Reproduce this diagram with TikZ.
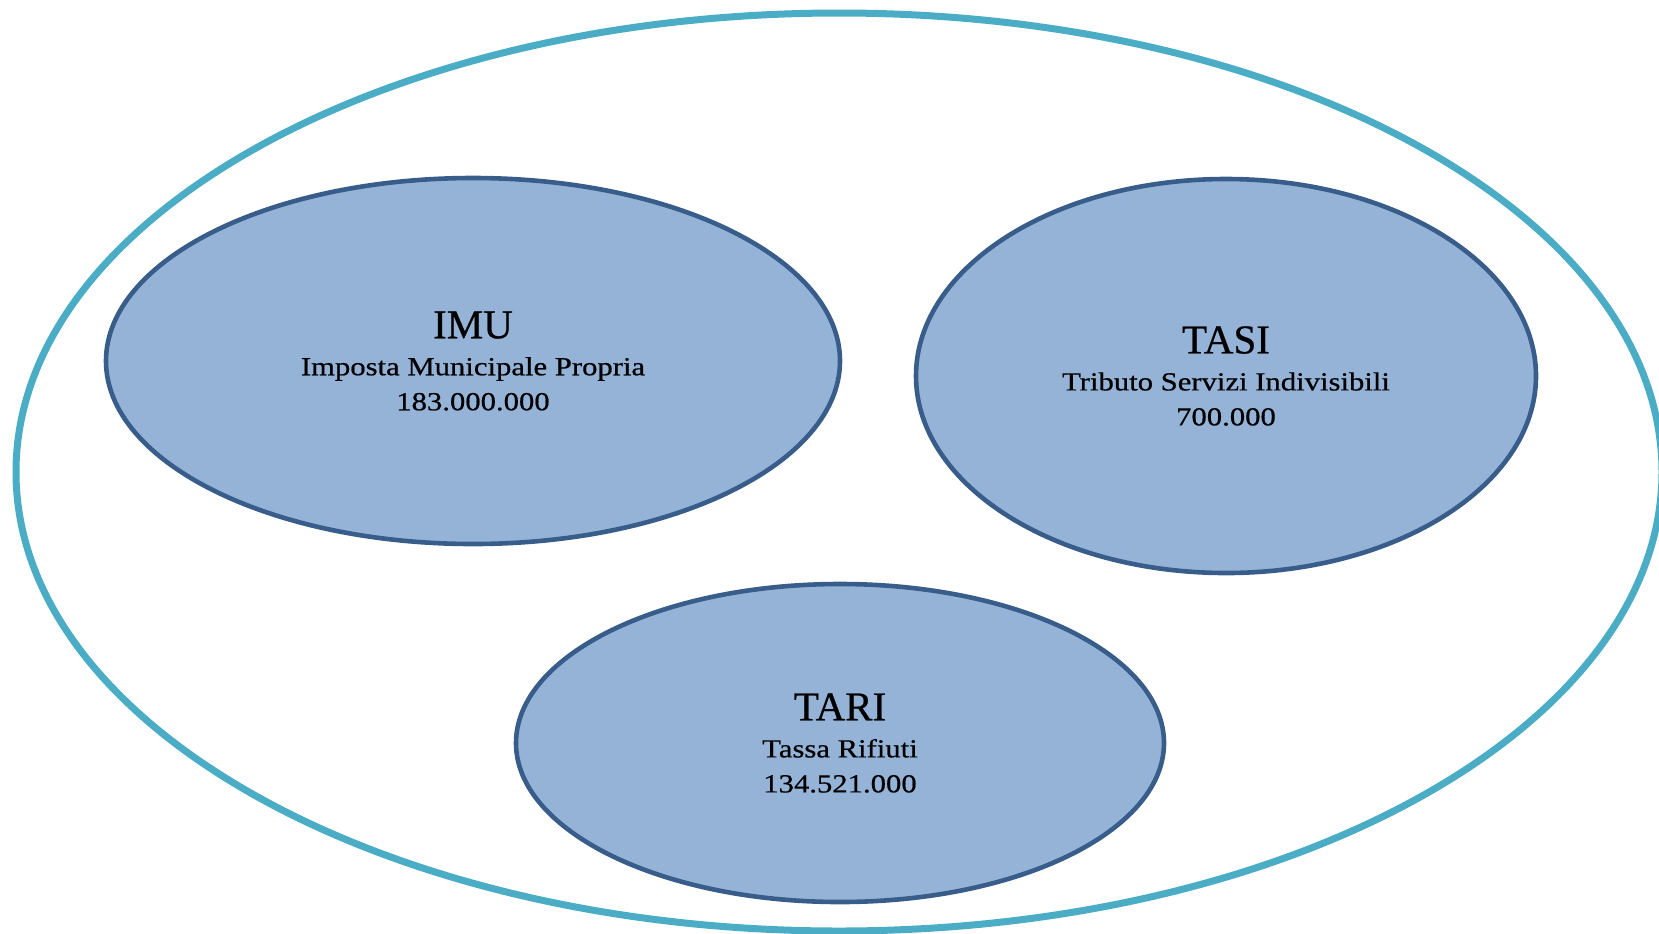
\documentclass[tikz,border=0pt]{standalone}
\usepackage{fontspec}
\setmainfont{Liberation Serif}
\newfontfamily\taxfont[FakeStretch=1.18, FakeBold=0.6]{Liberation Serif}
\newfontfamily\titlefont[FakeBold=0.6]{Liberation Serif}
\usetikzlibrary{shapes.geometric, positioning}

\definecolor{ringblue}{HTML}{4BACC6}
\definecolor{taxfill}{HTML}{95B3D7}
\definecolor{taxline}{HTML}{385D8A}

\newcommand{\taxtitle}[1]{{\titlefont\fontsize{20.5}{24}\selectfont #1}\\[1pt]}

\begin{document}
\begin{tikzpicture}[x=0.5pt, y=-0.5pt,
    ring/.style={ellipse, draw=ringblue, line width=3.5pt, inner sep=0pt},
    tax/.style={ellipse, draw=taxline, fill=taxfill, line width=2.3pt,
        inner sep=0pt, align=center, font=\taxfont\fontsize{13}{17.5}\selectfont}]
\useasboundingbox (0,0) rectangle (1659,933);
\node[ring, minimum width=823pt, minimum height=459pt] (tributi) at (839,472) {};
\node[tax, minimum width=367pt, minimum height=183pt] (imu) at (473,361)
    {\taxtitle{IMU}Imposta Municipale Propria\\183.000.000};
\node[tax, minimum width=310pt, minimum height=197pt] (tasi) at (1226,376)
    {\taxtitle{TASI}Tributo Servizi Indivisibili\\700.000};
\node[tax, minimum width=324pt, minimum height=159pt] (tari) at (840,743)
    {\taxtitle{TARI}Tassa Rifiuti\\134.521.000};
\end{tikzpicture}
\end{document}
